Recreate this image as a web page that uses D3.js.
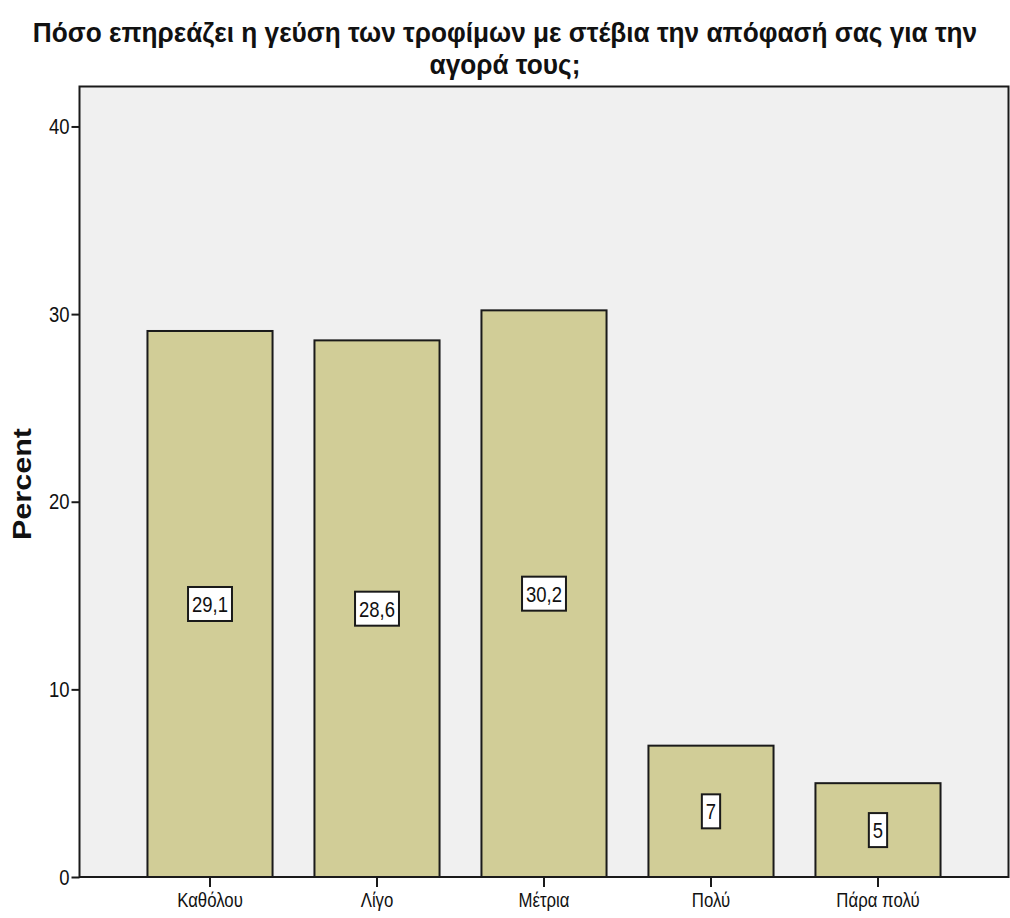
<!DOCTYPE html>
<html>
<head>
<meta charset="utf-8">
<script src="https://cdn.jsdelivr.net/npm/d3@7/dist/d3.min.js"></script>
<style>
  html, body { margin: 0; padding: 0; background: #ffffff; }
  svg { display: block; }
  .sans { font-family: "Liberation Sans", Arial, sans-serif; }
</style>
</head>
<body>
<svg id="chart" width="1010" height="918"></svg>
<script>
// Survey answers and their percentages
const categories = ["Καθόλου", "Λίγο", "Μέτρια", "Πολύ", "Πάρα πολύ"];
const percents = [29.1, 28.6, 30.2, 7, 5];
const valueLabels = ["29,1", "28,6", "30,2", "7", "5"];
const yTicks = [0, 10, 20, 30, 40];
const titleLines = ["Πόσο επηρεάζει η γεύση των τροφίμων με στέβια την απόφασή σας για την", "αγορά τους;"];

const svg = d3.select("#chart");
const plot = { left: 79.5, top: 86.5, right: 1008.5, bottom: 877 };
const condense = 0.84; // horizontal squeeze for a narrow face

const x = d3.scaleBand()
  .domain(categories)
  .range([plot.left, plot.right])
  .paddingInner(0.251)
  .paddingOuter(0.407);

const y = d3.scaleLinear()
  .domain([0, 42.13])
  .range([plot.bottom, plot.top]);

// Title, squeezed to a condensed width
const titleG = svg.append("g");
const titleText = titleG.selectAll("text")
  .data(titleLines)
  .join("text")
  .attr("class", "sans")
  .attr("x", 0)
  .attr("y", (d, i) => 42 + i * 32)
  .attr("text-anchor", "middle")
  .attr("font-size", 28)
  .attr("font-weight", "bold")
  .attr("fill", "#111")
  .text(d => d);
const titleW = titleText.nodes()[0].getComputedTextLength();
titleG.attr("transform", `translate(505,0) scale(${945 / titleW},1)`);

// Plot background
svg.append("rect")
  .attr("x", plot.left).attr("y", plot.top)
  .attr("width", plot.right - plot.left)
  .attr("height", plot.bottom - plot.top)
  .attr("fill", "#f0f0f0");

// Bars
svg.append("g").selectAll("rect")
  .data(categories)
  .join("rect")
  .attr("x", d => x(d))
  .attr("y", (d, i) => y(percents[i]))
  .attr("width", x.bandwidth())
  .attr("height", (d, i) => y(0) - y(percents[i]))
  .attr("fill", "#d1cd97")
  .attr("stroke", "#1a1a1a")
  .attr("stroke-width", 2);

// Frame
svg.append("rect")
  .attr("x", plot.left).attr("y", plot.top)
  .attr("width", plot.right - plot.left)
  .attr("height", plot.bottom - plot.top)
  .attr("fill", "none")
  .attr("stroke", "#1a1a1a")
  .attr("stroke-width", 2);

// Y axis
const yAxis = svg.append("g")
  .attr("transform", `translate(${plot.left},0)`)
  .call(d3.axisLeft(y).tickValues(yTicks).tickSize(8).tickPadding(2).tickFormat(d3.format("d")));
yAxis.select(".domain").remove();
yAxis.selectAll(".tick line").attr("stroke", "#1a1a1a").attr("stroke-width", 2);
yAxis.selectAll(".tick text")
  .attr("class", "sans")
  .attr("x", 0)
  .attr("transform", `translate(-10,0) scale(${condense},1)`)
  .attr("font-size", 22)
  .attr("fill", "#111");

// X axis
const xAxis = svg.append("g")
  .attr("transform", `translate(0,${plot.bottom})`)
  .call(d3.axisBottom(x).tickSize(10).tickPadding(6));
xAxis.select(".domain").remove();
xAxis.selectAll(".tick line").attr("stroke", "#1a1a1a").attr("stroke-width", 2);
xAxis.selectAll(".tick text")
  .attr("class", "sans")
  .attr("transform", `scale(${condense},1)`)
  .attr("font-size", 20)
  .attr("fill", "#111");

// Y axis title, wide heavy face
svg.append("text")
  .attr("transform", "translate(31,484) rotate(-90)")
  .attr("text-anchor", "middle")
  .attr("class", "sans")
  .attr("font-size", 25)
  .attr("font-weight", "bold")
  .attr("textLength", 112)
  .attr("lengthAdjust", "spacingAndGlyphs")
  .attr("fill", "#111")
  .text("Percent");

// Value labels in boxes at bar mid-height
const labels = svg.append("g").selectAll("g")
  .data(categories)
  .join("g")
  .attr("transform", (d, i) => `translate(${x(d) + x.bandwidth() / 2},${(y(percents[i]) + y(0)) / 2})`);

labels.append("text")
  .attr("class", "sans")
  .attr("text-anchor", "middle")
  .attr("dy", "0.36em")
  .attr("font-size", 22)
  .attr("transform", `scale(${condense},1)`)
  .attr("fill", "#111")
  .text((d, i) => valueLabels[i]);

labels.each(function () {
  const g = d3.select(this);
  const w = g.select("text").node().getComputedTextLength() * condense;
  g.insert("rect", "text")
    .attr("x", -w / 2 - 4)
    .attr("y", -17)
    .attr("width", w + 8)
    .attr("height", 34)
    .attr("fill", "#ffffff")
    .attr("stroke", "#1a1a1a")
    .attr("stroke-width", 2);
});
</script>
</body>
</html>
